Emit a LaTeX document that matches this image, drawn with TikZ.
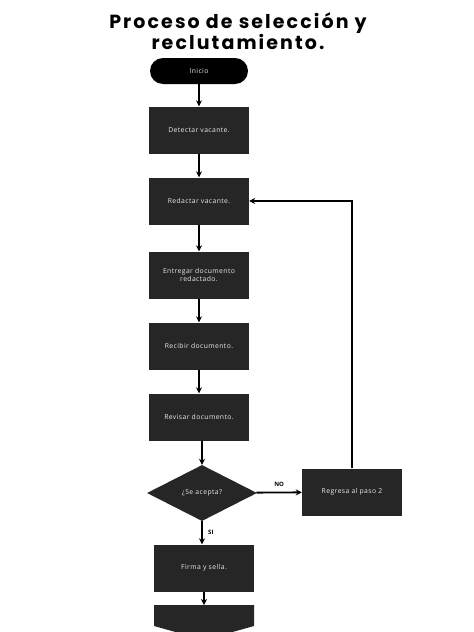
\documentclass[tikz,border=0pt]{standalone}
\usepackage{fontspec}
\setmainfont{Open Sans}
\newfontfamily\titlefont{Poppins}[BoldFont={* Bold},LetterSpace=11]
\newfontfamily\pasofont{Open Sans}[LetterSpace=6]
\usetikzlibrary{shapes.geometric,shapes.misc,arrows.meta}
\tikzset{
  paso/.style={draw=none,fill=black!85,text=white!92!black,minimum width=100pt,minimum height=47pt,inner sep=1pt,align=center,font=\pasofont\fontsize{6.8}{7.5}\selectfont},
  flecha/.style={-{Stealth[length=6pt,width=6pt]},line width=1.8pt},
  etiqueta/.style={font=\fontsize{6}{7}\selectfont\bfseries}
}
\begin{document}
\begin{tikzpicture}[x=1pt,y=-1pt]
\useasboundingbox (0,0) rectangle (474,632);
\node[font=\titlefont\bfseries\fontsize{19}{18.5}\selectfont,align=center,inner sep=0] (titulo) at (238,31) {Proceso de selección y\\reclutamiento.};
\node[paso,rounded rectangle,fill=black,minimum height=26pt] (inicio) at (199,71) {Inicio};
\node[paso] (detectar) at (199,130) {Detectar vacante.};
\node[paso] (redactar) at (199,201) {Redactar vacante.};
\node[paso] (entregar) at (199,275) {Entregar documento\\redactado.};
\node[paso] (recibir) at (199,346) {Recibir documento.};
\node[paso] (revisar) at (199,417) {Revisar documento.};
\node[paso,diamond,aspect=2,inner sep=0pt,text width=50pt,minimum width=110pt,minimum height=56pt] (acepta) at (202,493) {¿Se acepta?};
\node[paso] (regresa) at (352,492) {Regresa al paso 2};
\node[paso] (firma) at (204,568) {Firma y sella.};
% conector de salida (cortado por el borde)
\fill[black!85] (154,605) -- (254,605) -- (254,626) -- (204,640) -- (154,626) -- cycle;
\coordinate (sigue) at (204,605);
\draw[flecha] (inicio) -- (detectar);
\draw[flecha] (detectar) -- (redactar);
\draw[flecha] (redactar) -- (entregar);
\draw[flecha] (entregar) -- (recibir);
\draw[flecha] (recibir) -- (revisar);
\draw[flecha] (revisar.south -| acepta.north) -- (acepta.north);
\draw[flecha] (acepta) -- (regresa) node[etiqueta,midway,above=2pt] {NO};
\draw[flecha] (acepta.south) -- (firma.north -| acepta.south) node[etiqueta,midway,right=2pt] {SI};
\draw[flecha] (regresa.north) |- (redactar.east);
\draw[flecha] (firma) -- (sigue);
\end{tikzpicture}
\end{document}
